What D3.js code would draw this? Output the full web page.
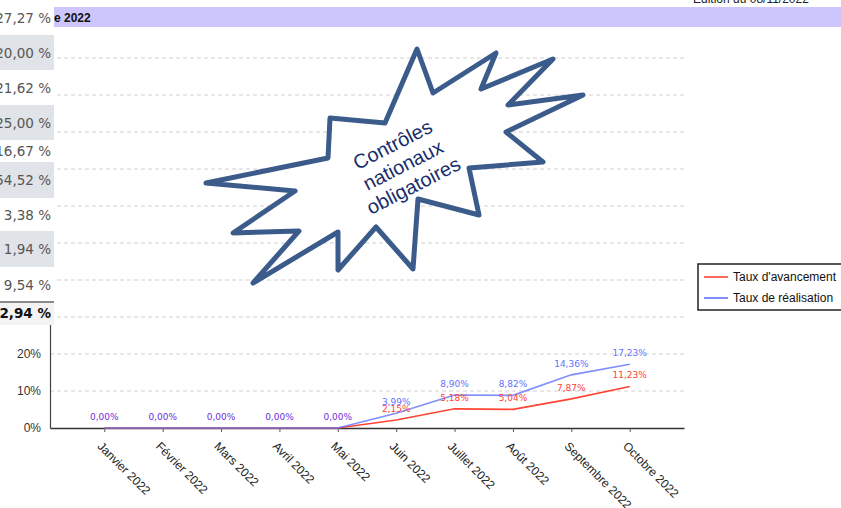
<!DOCTYPE html>
<html>
<head>
<meta charset="utf-8">
<script src="https://cdn.jsdelivr.net/npm/d3@7"></script>
<style>
  body { margin: 0; background: #fff; }
  svg { display: block; }
</style>
</head>
<body>
<svg id="chart" width="841" height="508"></svg>
<script>
// chart data
let months = ["Janvier 2022", "Février 2022", "Mars 2022", "Avril 2022", "Mai 2022",
    "Juin 2022", "Juillet 2022", "Août 2022", "Septembre 2022", "Octobre 2022"];
let tauxAvancement = [0, 0, 0, 0, 0, 2.15, 5.18, 5.04, 7.87, 11.23];
let tauxRealisation = [0, 0, 0, 0, 0, 3.99, 8.90, 8.82, 14.36, 17.23];
let yTicks = [0, 10, 20, 30, 40, 50, 60, 70, 80, 90, 100];
let seriesNames = ["Taux d'avancement", "Taux de réalisation"];

// column of the table lying over the chart (left side of the page)
let tableValues = ["27,27 %", "20,00 %", "21,62 %", "25,00 %", "16,67 %",
    "54,52 %", "3,38 %", "1,94 %", "9,54 %"];
let tableTotal = "12,94 %";

let svg = d3.select('#chart');
let margin = {top: 58, left: 50, right: 157, bottom: 80};
let width = 841 - margin.left - margin.right;
let height = 508 - margin.top - margin.bottom;
let red = "#ff4433";
let blue = "#5f72ff";

let fmt = function(v) { return v.toFixed(2).replace(".", ",") + "%"; };

let xScale = d3.scalePoint()
    .domain(months)
    .range([0, width])
    .padding(0.93);

let yScale = d3.scaleLinear()
    .domain([0, 100])
    .range([height, 0]);

let g = svg.append("g")
    .attr("transform", "translate(" + margin.left + "," + margin.top + ")");

// grid
g.append("g").selectAll("line")
    .data(yTicks.filter(function(d) { return d > 0; }))
    .enter().append("line")
    .attr("x1", 0).attr("x2", width)
    .attr("y1", function(d) { return yScale(d); })
    .attr("y2", function(d) { return yScale(d); })
    .attr("stroke", "#d0d0d0")
    .attr("stroke-dasharray", "4,3");

// y axis (labels above 20% sit under the table, so they are left empty)
let yAxis = g.append("g")
    .call(d3.axisLeft(yScale).tickValues(yTicks).tickSize(0).tickPadding(9)
        .tickFormat(function(d) { return d <= 20 ? d + "%" : ""; }));
yAxis.select(".domain").attr("stroke", "#444").attr("stroke-width", 1.2);
yAxis.selectAll("text")
    .style("font-family", "'Liberation Sans', Arial, sans-serif")
    .style("font-size", "12px")
    .attr("fill", "#333");

// x axis
let xAxis = g.append("g")
    .attr("transform", "translate(0," + height + ")")
    .call(d3.axisBottom(xScale).tickSize(4).tickSizeOuter(0));
xAxis.select(".domain").attr("stroke", "#333").attr("stroke-width", 1.3);
xAxis.selectAll(".tick line").attr("stroke", "#555");
xAxis.selectAll("text")
    .style("font-family", "'Liberation Sans', Arial, sans-serif")
    .style("font-size", "12px")
    .attr("fill", "#222")
    .attr("x", 0).attr("y", 0).attr("dy", 0)
    .attr("transform", "translate(-8,19) rotate(45)")
    .style("text-anchor", "start");

// lines
let line = d3.line()
    .x(function(d, i) { return xScale(months[i]); })
    .y(function(d) { return yScale(d); });

g.append("path")
    .datum(tauxAvancement)
    .attr("d", line)
    .attr("fill", "none")
    .attr("stroke", red)
    .attr("stroke-width", 1.6);

g.append("path")
    .datum(tauxRealisation)
    .attr("d", line)
    .attr("fill", "none")
    .attr("stroke", blue)
    .attr("stroke-opacity", 0.8)
    .attr("stroke-width", 1.6);

// value labels; when both values are equal a single purple label is shown
let labels = [];
months.forEach(function(m, i) {
    let a = tauxAvancement[i], r = tauxRealisation[i];
    if (a === r) {
        labels.push({m: m, v: a, color: "#7030d8"});
    } else {
        labels.push({m: m, v: a, color: red});
        labels.push({m: m, v: r, color: blue});
    }
});
g.append("g").selectAll("text")
    .data(labels)
    .enter().append("text")
    .attr("x", function(d) { return xScale(d.m); })
    .attr("y", function(d) { return yScale(d.v) - 8; })
    .attr("text-anchor", "middle")
    .style("font-family", "'DejaVu Sans', Verdana, sans-serif")
    .style("font-size", "9px")
    .attr("fill", function(d) { return d.color; })
    .text(function(d) { return fmt(d.v); });

// legend
let legend = svg.append("g").attr("transform", "translate(698,264)");
legend.append("rect")
    .attr("width", 150).attr("height", 46)
    .attr("fill", "#fff").attr("stroke", "#222").attr("stroke-width", 1.5);
let items = legend.selectAll(".item")
    .data(seriesNames)
    .enter().append("g")
    .attr("transform", function(d, i) { return "translate(0," + (13 + i * 21) + ")"; });
items.append("line")
    .attr("x1", 6).attr("x2", 30)
    .attr("stroke", function(d, i) { return i === 0 ? red : blue; })
    .attr("stroke-width", 1.6);
items.append("text")
    .attr("x", 35).attr("y", 4)
    .style("font-family", "'Liberation Sans', Arial, sans-serif")
    .style("font-size", "12px")
    .attr("fill", "#111")
    .text(function(d) { return d; });

// header band
svg.append("rect")
    .attr("x", 0).attr("y", 7).attr("width", 841).attr("height", 20)
    .attr("fill", "#cdc6fc");
svg.append("text")
    .attr("x", 54).attr("y", 22)
    .style("font-family", "'Liberation Sans', Arial, sans-serif")
    .style("font-size", "12px").style("font-weight", "bold")
    .attr("fill", "#111")
    .text("e  2022");
svg.append("text")
    .attr("x", 693).attr("y", 3)
    .style("font-family", "'Liberation Sans', Arial, sans-serif")
    .style("font-size", "12px")
    .attr("fill", "#222")
    .text("Edition du  08/11/2022");

// table column over the left side
let rowTops = [0, 35, 70, 105, 140, 162, 198, 231, 267, 302];
let table = svg.append("g");
tableValues.forEach(function(v, i) {
    table.append("rect")
        .attr("x", 0).attr("y", rowTops[i]).attr("width", 54)
        .attr("height", rowTops[i + 1] - rowTops[i])
        .attr("fill", i % 2 === 1 ? "#e0e3e7" : "#fff");
    table.append("text")
        .attr("x", 51).attr("y", (rowTops[i] + rowTops[i + 1]) / 2 + 5)
        .attr("text-anchor", "end")
        .style("font-family", "'DejaVu Sans', Verdana, sans-serif")
        .style("font-size", "13.5px")
        .attr("fill", "#555")
        .text(v);
});
table.append("rect")
    .attr("x", 0).attr("y", 302).attr("width", 54).attr("height", 23)
    .attr("fill", "#f3f3f3");
table.append("line")
    .attr("x1", 0).attr("x2", 54).attr("y1", 302).attr("y2", 302)
    .attr("stroke", "#666").attr("stroke-width", 1.5);
table.append("text")
    .attr("x", 51).attr("y", 318)
    .attr("text-anchor", "end")
    .style("font-family", "'DejaVu Sans', Verdana, sans-serif")
    .style("font-size", "13.5px").style("font-weight", "bold")
    .attr("fill", "#111")
    .text(tableTotal);

// starburst callout
let burst = [[417, 49], [433, 93], [496, 53], [481, 89], [553, 59], [508, 105],
    [583, 95], [506, 132], [543, 162], [469, 168], [479, 215], [418, 199],
    [413, 269], [376, 227], [338, 270], [338, 232], [253, 283], [299, 231],
    [233, 233], [295, 191], [206, 183], [328, 158], [330, 118], [385, 123]];
svg.append("path")
    .attr("d", d3.line()(burst) + "Z")
    .attr("fill", "#fff")
    .attr("stroke", "#3b5b8b")
    .attr("stroke-width", 5)
    .attr("stroke-linejoin", "round");
let callout = svg.append("text")
    .attr("transform", "translate(403,165) rotate(-27)")
    .attr("text-anchor", "middle")
    .style("font-family", "'Liberation Sans', Arial, sans-serif")
    .style("font-size", "20px")
    .attr("fill", "#1a2e6c");
["Contrôles", "nationaux", "obligatoires"].forEach(function(t, i) {
    callout.append("tspan").attr("x", 0).attr("y", (i - 1) * 23 + 7).text(t);
});
</script>
</body>
</html>
